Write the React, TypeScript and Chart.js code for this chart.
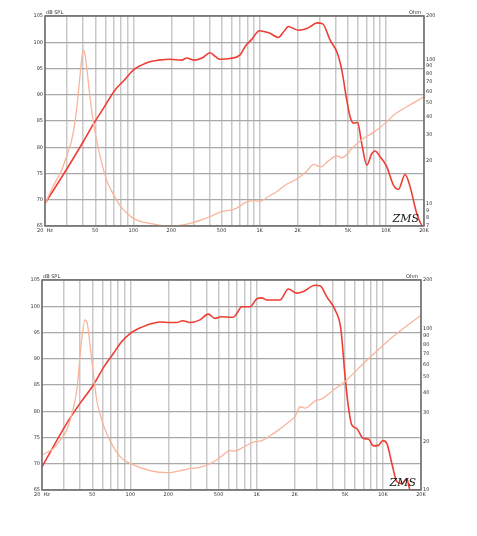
import React, { useEffect, useRef } from "react";
import { Chart, registerables } from "chart.js";

Chart.register(...registerables);

// ---------- axis ticks ----------
const freqTicks = [
  20, 30, 40, 50, 60, 70, 80, 90, 100, 200, 300, 400, 500, 600, 700, 800, 900,
  1000, 2000, 3000, 4000, 5000, 6000, 7000, 8000, 9000, 10000, 20000,
];
const freqLabelValues = [20, 50, 100, 200, 500, 1000, 2000, 5000, 10000, 20000];
const freqLabelTexts = ["20  Hz", "50", "100", "200", "500", "1K", "2K", "5K", "10K", "20K"];
const dbTicks = [65, 70, 75, 80, 85, 90, 95, 100, 105];
const ohmTicksTop = [7, 8, 9, 10, 20, 30, 40, 50, 60, 70, 80, 90, 100, 200];
const ohmTicksBottom = [10, 20, 30, 40, 50, 60, 70, 80, 90, 100, 200];

// ---------- top chart data ----------
const topSplFreq = [
  20, 30, 40, 48.3, 58, 71.7, 85, 100, 115, 135, 160, 195, 242, 265, 299, 350,
  405, 450, 486, 583, 700, 768, 870, 995, 1100, 1210, 1406, 1550, 1690, 1850,
  2027, 2362, 2600, 2833, 3160, 3612, 4125, 4470, 4895, 5200, 5523, 5960, 6430,
  7050, 7730, 8210, 8980, 10140, 11460, 12540, 14170, 15520, 17530, 19680, 20000,
];
const topSplDb = [
  69.3, 76, 81, 84.4, 87.4, 90.9, 92.8, 94.7, 95.6, 96.3, 96.6, 96.75, 96.6, 97,
  96.6, 97.0, 98, 97.2, 96.75, 96.9, 97.6, 99.2, 100.6, 102.2, 102.0, 101.7,
  100.9, 102.0, 103, 102.6, 102.3, 102.6, 103.2, 103.7, 103.5, 100.4, 97.9, 94.7,
  89, 85.8, 84.6, 84.7, 80.7, 76.6, 78.8, 79.3, 78.2, 76.3, 72.8, 72, 74.8, 72.5,
  67.4, 65, 65,
];
const topImpFreq = [
  20, 23, 27, 30, 32.5, 35, 37.8, 39, 40.2, 41.5, 43.3, 45.4, 48, 51.3, 56, 61.6,
  70, 78.5, 90, 100, 115, 135, 160, 195, 240, 299, 360, 428, 500, 616, 700, 740,
  890, 1000, 1210, 1400, 1590, 1975, 2362, 2680, 3030, 3500, 4080, 4470, 5520,
  6500, 7960, 10140, 11460, 14640, 20000,
];
const topImpOhm = [
  10, 13, 17, 22, 27.5, 40, 76, 100, 116, 108, 80, 55, 38, 27.5, 19.5, 14.5,
  11.5, 9.7, 8.5, 7.9, 7.5, 7.3, 7.1, 7.0, 7.1, 7.4, 7.8, 8.3, 8.8, 9.1, 9.6,
  10.0, 10.5, 10.4, 11.4, 12.3, 13.4, 14.9, 16.8, 18.7, 18.0, 19.8, 21.4, 20.8,
  24.7, 28, 31.2, 36.9, 41, 47, 55,
];

// ---------- bottom chart data ----------
const botSplFreq = [
  20, 31.4, 40, 51, 62, 73.4, 85, 99.5, 115, 135, 172, 206, 233, 259, 296, 356,
  414, 468, 528, 616, 654, 696, 762, 887, 1002, 1098, 1203, 1533, 1783, 2078,
  2344, 2900, 3178, 3591, 4177, 4634, 5012, 5323, 5662, 6204, 6998, 7666, 8398,
  9199, 9966, 10722, 11746, 12866, 14094, 15438, 16400, 20000,
];
const botSplDb = [
  69.4, 77.7, 81.5, 85, 88.5, 91, 93.2, 94.8, 95.7, 96.4, 97, 96.9, 96.9, 97.25,
  96.9, 97.4, 98.5, 97.7, 98.0, 97.9, 97.9, 98.6, 99.9, 99.9, 101.4, 101.6,
  101.2, 101.2, 103.3, 102.5, 102.8, 104, 103.9, 101.8, 99.3, 95.8, 86.6, 80.9,
  77.4, 76.7, 74.8, 74.7, 73.4, 73.5, 74.4, 73.9, 70.1, 66.6, 66.2, 67.2, 65, 65,
];
const botImpFreq = [
  20, 24.6, 28, 31.4, 35, 37.7, 41.2, 43.8, 45.7, 49.5, 54.2, 58, 65, 83, 106,
  143, 194, 263, 296, 356, 454, 545, 616, 654, 696, 785, 942, 1098, 1277, 1486,
  1783, 2014, 2208, 2418, 2992, 3178, 4050, 5170, 6998, 9487, 12866, 20000,
];
const botImpOhm = [
  16.5, 18.1, 20.5, 23.5, 31, 41.6, 85, 113, 107, 64, 36.1, 29, 22.4, 16.1, 14.3,
  13.2, 12.8, 13.3, 13.6, 13.8, 14.9, 16.5, 17.6, 17.4, 17.6, 18.4, 19.8, 20.2,
  21.7, 23.5, 26.3, 28.5, 32.8, 32.2, 36.1, 36.3, 41.6, 48.1, 60.8, 75.9, 93.3,
  121,
];

const SPL_COLOR = "#ee3e34";
const IMP_COLOR = "#f9b49b";
const FONT = "'DejaVu Sans', sans-serif";

const decorPlugin = {
  id: "decor",
  afterDraw(chart: any) {
    const { ctx, chartArea: a } = chart;
    ctx.save();
    ctx.strokeStyle = "#6a6a6a";
    ctx.lineWidth = 1.5;
    ctx.strokeRect(a.left, a.top, a.right - a.left, a.bottom - a.top);
    ctx.fillStyle = "#333";
    ctx.font = `5px ${FONT}`;
    ctx.textBaseline = "bottom";
    ctx.textAlign = "left";
    ctx.fillText("dB SPL", a.left + 1, a.top - 1);
    ctx.textAlign = "right";
    ctx.fillText("Ohm", a.right - 3, a.top - 1);
    ctx.font = `italic 11px 'DejaVu Serif', serif`;
    ctx.fillStyle = "#111";
    ctx.textBaseline = "alphabetic";
    ctx.fillText("ZMS", a.right - 5, a.bottom - 4);
    ctx.restore();
  },
};

type PanelProps = {
  top: number;
  height: number;
  padTop: number;
  leftW: number;
  rightW: number;
  xH: number;
  ohmMin: number;
  ohmTicks: number[];
  splF: number[];
  splV: number[];
  impF: number[];
  impV: number[];
};

function Panel(p: PanelProps) {
  const ref = useRef<HTMLCanvasElement | null>(null);
  useEffect(() => {
    if (!ref.current) return;
    const tickFont = { size: 5, family: FONT };
    const chart = new Chart(ref.current, {
      type: "scatter",
      data: {
        datasets: [
          {
            label: "Impedance",
            data: p.impF.map((x, i) => ({ x, y: p.impV[i] })),
            yAxisID: "y2",
            showLine: true,
            borderColor: IMP_COLOR,
            borderWidth: 1.3,
            pointRadius: 0,
            cubicInterpolationMode: "monotone",
          },
          {
            label: "SPL",
            data: p.splF.map((x, i) => ({ x, y: p.splV[i] })),
            yAxisID: "y",
            showLine: true,
            borderColor: SPL_COLOR,
            borderWidth: 1.6,
            pointRadius: 0,
            cubicInterpolationMode: "monotone",
          },
        ],
      },
      options: {
        animation: false,
        responsive: true,
        maintainAspectRatio: false,
        layout: { padding: { top: p.padTop, left: 0, right: 0, bottom: 0 } },
        plugins: { legend: { display: false }, tooltip: { enabled: false } },
        scales: {
          x: {
            type: "logarithmic",
            min: 20,
            max: 20000,
            afterBuildTicks: (s: any) => {
              s.ticks = freqTicks.map((v) => ({ value: v }));
            },
            afterFit: (s: any) => {
              s.height = p.xH;
            },
            ticks: {
              autoSkip: false,
              maxRotation: 0,
              minRotation: 0,
              padding: 2,
              font: tickFont,
              color: "#333",
              callback: (v: any) => {
                const i = freqLabelValues.indexOf(Number(v));
                return i >= 0 ? freqLabelTexts[i] : "";
              },
            },
            grid: { color: "#c9c9c9", lineWidth: 1.5, drawTicks: false },
            border: { display: false },
          },
          y: {
            type: "linear",
            position: "left",
            min: 65,
            max: 105,
            afterBuildTicks: (s: any) => {
              s.ticks = dbTicks.map((v) => ({ value: v }));
            },
            afterFit: (s: any) => {
              s.width = p.leftW;
            },
            ticks: {
              autoSkip: false,
              padding: 2,
              font: tickFont,
              color: "#333",
              callback: (v: any) => String(v),
            },
            grid: { color: "#a9a9a9", lineWidth: 1.2, drawTicks: false },
            border: { display: false },
          },
          y2: {
            type: "logarithmic",
            position: "right",
            min: p.ohmMin,
            max: 200,
            afterBuildTicks: (s: any) => {
              s.ticks = p.ohmTicks.map((v) => ({ value: v }));
            },
            afterFit: (s: any) => {
              s.width = p.rightW;
            },
            ticks: {
              autoSkip: false,
              padding: 2,
              font: tickFont,
              color: "#333",
              callback: (v: any) => String(v),
            },
            grid: { display: false, drawTicks: false },
            border: { display: false },
          },
        },
      } as any,
      plugins: [decorPlugin],
    });
    return () => chart.destroy();
  }, []);
  return (
    <div
      style={{
        position: "absolute",
        left: 0,
        top: p.top,
        width: 477,
        height: p.height,
      }}
    >
      <canvas ref={ref} />
    </div>
  );
}

export default function App() {
  return (
    <div
      style={{
        position: "absolute",
        left: 0,
        top: 0,
        width: 477,
        height: 536,
        background: "#fff",
      }}
    >
      <Panel
        top={0}
        height={240}
        padTop={16}
        leftW={45}
        rightW={53}
        xH={14}
        ohmMin={7}
        ohmTicks={ohmTicksTop}
        splF={topSplFreq}
        splV={topSplDb}
        impF={topImpFreq}
        impV={topImpOhm}
      />
      <Panel
        top={264}
        height={240}
        padTop={16}
        leftW={42}
        rightW={56}
        xH={14}
        ohmMin={10}
        ohmTicks={ohmTicksBottom}
        splF={botSplFreq}
        splV={botSplDb}
        impF={botImpFreq}
        impV={botImpOhm}
      />
    </div>
  );
}
